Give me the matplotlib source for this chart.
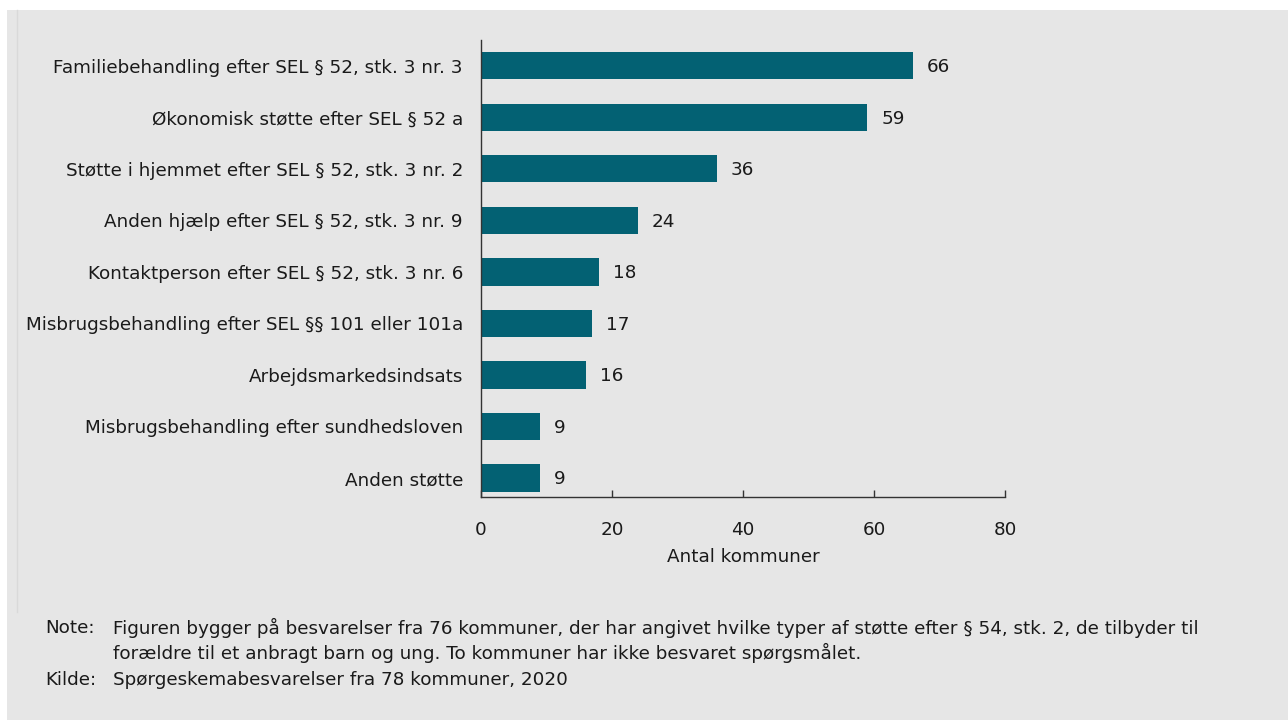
import numpy as np
import matplotlib
matplotlib.use("Agg")
import matplotlib.pyplot as plt
from matplotlib.patches import Rectangle
from matplotlib.lines import Line2D

categories = [
    "Familiebehandling efter SEL § 52, stk. 3 nr. 3",
    "Økonomisk støtte efter SEL § 52 a",
    "Støtte i hjemmet efter SEL § 52, stk. 3 nr. 2",
    "Anden hjælp efter SEL § 52, stk. 3 nr. 9",
    "Kontaktperson efter SEL § 52, stk. 3 nr. 6",
    "Misbrugsbehandling efter SEL §§ 101 eller 101a",
    "Arbejdsmarkedsindsats",
    "Misbrugsbehandling efter sundhedsloven",
    "Anden støtte",
]
values = [66, 59, 36, 24, 18, 17, 16, 9, 9]
xticks = [0, 20, 40, 60, 80]

note_line1 = ("Figuren bygger på besvarelser fra 76 kommuner, der har angivet hvilke typer af "
              "støtte efter § 54, stk. 2, de tilbyder til")
note_line2 = "forældre til et anbragt barn og ung. To kommuner har ikke besvaret spørgsmålet."
source = "Spørgeskemabesvarelser fra 78 kommuner, 2020"

bg = "#e6e6e6"
bar_color = "#036173"
txt = "#1a1a1a"
fs = 13.2

plt.rcParams["font.family"] = ["DejaVu Sans"]

W, H = 1288, 720
fig = plt.figure(figsize=(W / 100, H / 100), dpi=100, facecolor="white")
fig.patches.append(Rectangle((7 / W, 0), 1 - 7 / W, 1 - 10 / H, transform=fig.transFigure,
                             facecolor=bg, edgecolor="none", zorder=-10))
fig.lines.append(Line2D([17 / W, 17 / W], [1 - 612 / H, 1 - 10 / H], transform=fig.transFigure,
                        color="#d9d9d9", lw=1))

ax = fig.add_axes([481 / W, 1 - 497 / H, (1005 - 481) / W, (497 - 40) / H])
ax.set_facecolor(bg)

y = np.arange(len(categories))
ax.barh(y, values, height=0.53, color=bar_color)
for yi, v in zip(y, values):
    ax.annotate(str(v), (v, yi), xytext=(10, -1), textcoords="offset points",
                va="center", ha="left", fontsize=fs, color=txt)

ax.set_yticks(y)
ax.set_yticklabels(categories, fontsize=fs, color=txt)
ax.set_ylim(8 + 19 / 51.5, -0.5)
ax.set_xlim(0, 80)
ax.set_xticks(xticks)
ax.set_xticklabels([str(t) for t in xticks], fontsize=fs, color=txt)
ax.tick_params(axis="y", length=0, pad=13)
ax.tick_params(axis="x", direction="in", length=5, width=1, color="#333333", pad=17)
ax.set_xlabel("Antal kommuner", fontsize=fs, color=txt, labelpad=7)

for s in ["top", "right"]:
    ax.spines[s].set_visible(False)
for s in ["left", "bottom"]:
    ax.spines[s].set_color("#333333")
    ax.spines[s].set_linewidth(1)

fig.text(45 / W, 1 - 628 / H, "Note:", fontsize=fs, color=txt, va="center")
fig.text(113 / W, 1 - 628 / H, note_line1, fontsize=fs, color=txt, va="center")
fig.text(113 / W, 1 - 653 / H, note_line2, fontsize=fs, color=txt, va="center")
fig.text(45 / W, 1 - 680 / H, "Kilde:", fontsize=fs, color=txt, va="center")
fig.text(113 / W, 1 - 680 / H, source, fontsize=fs, color=txt, va="center")

fig.savefig("out.png", dpi=100, facecolor="white")
